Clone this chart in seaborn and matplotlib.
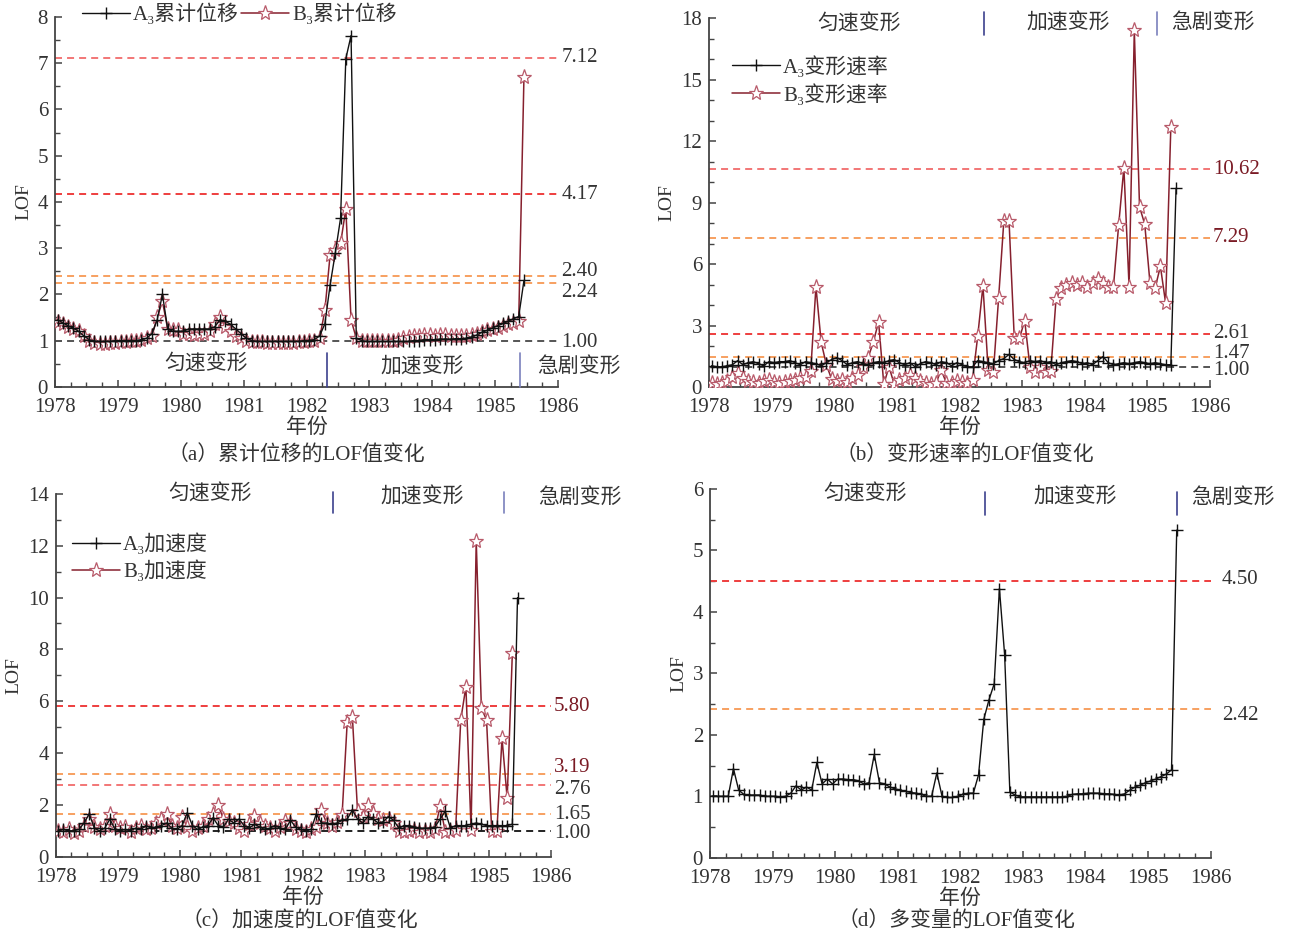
import numpy as np
import pandas as pd
import matplotlib
matplotlib.use("Agg")
import matplotlib.pyplot as plt
from matplotlib.ticker import MultipleLocator
import seaborn as sns

# ---------------- monthly LOF series (Jan 1978 onward) ----------------
disp_A3 = [1.45, 1.38, 1.32, 1.27, 1.20, 1.10, 1.02, 0.98, 0.98, 0.98,
           0.98, 1.00, 1.00, 1.00, 1.00, 1.00, 1.02, 1.05, 1.15, 1.45,
           2.00, 1.25, 1.20, 1.20, 1.20, 1.25, 1.25, 1.25, 1.25, 1.25,
           1.30, 1.45, 1.42, 1.35, 1.25, 1.15, 1.05, 1.00, 0.98, 0.98,
           0.98, 0.98, 0.98, 0.98, 0.98, 0.98, 0.98, 1.00, 1.00, 1.02,
           1.10, 1.36, 2.20, 2.90, 3.65, 7.10, 7.60, 1.05, 1.00, 0.98,
           0.98, 0.98, 0.98, 0.98, 0.98, 0.98, 0.98, 0.98, 1.00, 1.00,
           1.02, 1.02, 1.02, 1.03, 1.03, 1.03, 1.04, 1.04, 1.05, 1.08,
           1.12, 1.18, 1.22, 1.27, 1.32, 1.37, 1.42, 1.47, 1.52, 2.30]
disp_B3 = [1.40, 1.35, 1.30, 1.25, 1.20, 1.10, 1.00, 0.95, 0.93, 0.93,
           0.95, 0.95, 0.97, 0.97, 0.98, 1.00, 1.02, 1.05, 1.10, 1.50,
           1.85, 1.25, 1.22, 1.22, 1.15, 1.15, 1.12, 1.15, 1.15, 1.20,
           1.35, 1.50, 1.30, 1.20, 1.10, 1.05, 1.00, 0.97, 0.96, 0.96,
           0.95, 0.95, 0.95, 0.95, 0.95, 0.95, 0.96, 0.97, 0.98, 1.00,
           1.05, 1.65, 2.85, 2.95, 3.10, 3.85, 1.45, 1.05, 1.00, 1.00,
           1.00, 1.00, 1.00, 1.00, 1.00, 1.02, 1.05, 1.08, 1.10, 1.10,
           1.12, 1.12, 1.10, 1.12, 1.12, 1.10, 1.10, 1.10, 1.10, 1.12,
           1.15, 1.18, 1.22, 1.25, 1.28, 1.32, 1.35, 1.38, 1.43, 6.70]

rate_A3 = [1.05, 1.00, 1.00, 1.05, 1.10, 1.30, 1.10, 1.20, 1.25, 1.15,
           1.05, 1.25, 1.20, 1.25, 1.25, 1.30, 1.20, 1.10, 1.25, 1.20,
           1.15, 1.05, 1.20, 1.35, 1.45, 1.30, 1.10, 1.20, 1.25, 1.15,
           1.10, 1.20, 1.25, 1.20, 1.30, 1.35, 1.20, 1.10, 1.20, 1.00,
           1.15, 1.25, 1.20, 1.10, 1.25, 1.20, 1.05, 1.20, 1.10, 1.00,
           1.00, 1.30, 1.25, 1.20, 1.15, 1.30, 1.40, 1.60, 1.35, 1.25,
           1.20, 1.30, 1.25, 1.30, 1.20, 1.25, 1.10, 1.20, 1.25, 1.30,
           1.25, 1.15, 1.20, 1.10, 1.30, 1.50, 1.20, 1.10, 1.15, 1.20,
           1.15, 1.20, 1.25, 1.20, 1.15, 1.20, 1.15, 1.10, 1.10, 9.70]
rate_B3 = [0.20, 0.15, 0.20, 0.30, 0.50, 0.70, 0.45, 0.30, 0.25, 0.20,
           0.30, 0.35, 0.25, 0.20, 0.25, 0.30, 0.35, 0.45, 0.50, 0.80,
           4.90, 2.20, 1.10, 0.40, 0.30, 0.35, 0.25, 0.45, 0.60, 1.00,
           1.45, 2.20, 3.20, 0.15, 1.00, 0.15, 0.35, 0.45, 0.60, 0.45,
           0.30, 0.20, 0.15, 0.20, 0.85, 0.20, 0.20, 0.30, 0.25, 0.20,
           0.35, 2.50, 4.95, 0.85, 0.75, 4.35, 8.10, 8.10, 2.40, 2.40,
           3.25, 1.00, 0.75, 1.00, 0.75, 0.80, 4.30, 4.85, 5.00, 5.10,
           5.00, 5.10, 4.90, 5.10, 5.30, 5.10, 4.90, 4.90, 7.90, 10.70,
           4.90, 17.40, 8.80, 7.95, 5.10, 4.85, 5.90, 4.10, 12.70]

acc_A3 = [1.00, 1.05, 1.00, 1.00, 1.05, 1.30, 1.65, 1.10, 1.00, 1.10,
          1.45, 1.05, 1.00, 1.05, 1.00, 1.10, 1.05, 1.20, 1.10, 1.15,
          1.20, 1.30, 1.10, 1.05, 1.20, 1.70, 1.20, 1.05, 1.15, 1.20,
          1.50, 1.20, 1.15, 1.45, 1.30, 1.45, 1.20, 1.10, 1.25, 1.15,
          1.05, 1.10, 1.20, 1.10, 1.05, 1.40, 1.15, 1.05, 1.00, 1.05,
          1.65, 1.30, 1.30, 1.25, 1.30, 1.40, 1.45, 1.80, 1.45, 1.30,
          1.55, 1.45, 1.30, 1.35, 1.55, 1.40, 1.10, 1.20, 1.20, 1.15,
          1.10, 1.10, 1.10, 1.15, 1.45, 1.75, 1.10, 1.20, 1.20, 1.20,
          1.25, 1.30, 1.25, 1.20, 1.20, 1.20, 1.20, 1.20, 1.25, 10.00]
acc_B3 = [1.00, 0.95, 1.05, 0.90, 1.00, 1.20, 1.45, 1.15, 1.05, 1.20,
          1.65, 1.20, 1.10, 1.15, 0.95, 1.10, 1.20, 1.05, 1.10, 1.30,
          1.45, 1.65, 1.20, 1.10, 1.55, 1.15, 1.00, 1.10, 1.20, 1.45,
          1.64, 2.00, 1.45, 1.39, 1.30, 1.10, 1.00, 1.25, 1.58, 1.30,
          1.20, 1.10, 1.00, 1.15, 1.39, 1.30, 1.05, 1.00, 0.95, 1.05,
          1.15, 1.80, 1.30, 1.20, 1.35, 1.60, 5.20, 5.40, 1.75, 1.55,
          2.00, 1.70, 1.45, 1.40, 1.45, 1.30, 1.00, 0.97, 1.00, 1.02,
          0.97, 1.00, 0.97, 1.05, 1.95, 0.97, 1.00, 1.02, 5.28, 6.56,
          1.03, 12.20, 5.73, 5.28, 1.00, 1.00, 4.57, 2.25, 7.85]

multi_LOF = [1.00, 1.00, 1.00, 1.00, 1.45, 1.10, 1.03, 1.02, 1.02, 1.02,
             1.00, 1.00, 1.00, 0.99, 1.00, 1.05, 1.17, 1.10, 1.15, 1.10,
             1.55, 1.20, 1.28, 1.20, 1.28, 1.28, 1.27, 1.27, 1.25, 1.20,
             1.22, 1.68, 1.22, 1.20, 1.15, 1.12, 1.10, 1.08, 1.06, 1.05,
             1.03, 1.00, 1.00, 1.38, 1.00, 0.98, 0.98, 1.00, 1.03, 1.05,
             1.05, 1.35, 2.25, 2.57, 2.83, 4.38, 3.30, 1.07, 1.02, 0.99,
             0.99, 0.99, 0.99, 0.99, 0.99, 0.99, 0.99, 0.99, 1.00, 1.03,
             1.04, 1.04, 1.05, 1.05, 1.05, 1.04, 1.04, 1.03, 1.02, 1.04,
             1.10, 1.15, 1.18, 1.22, 1.25, 1.28, 1.32, 1.36, 1.43, 5.33]

# threshold levels
thr_disp = [7.12, 4.17, 2.40, 2.24, 1.00]
thr_rate = [10.62, 7.29, 2.61, 1.47, 1.00]
thr_acc = [5.80, 3.19, 2.76, 1.65, 1.00]
thr_multi = [4.50, 2.42]

# phase boundaries (decimal year) for each panel
bounds_disp = [1982.33, 1985.39]
bounds_rate = [1982.39, 1985.16]
bounds_acc = [1982.48, 1985.24]
bounds_multi = [1982.40, 1985.46]

phase_names = ["匀速变形", "加速变形", "急剧变形"]
years = list(range(1978, 1987))
legend_disp = ["A₃累计位移", "B₃累计位移"]
legend_rate = ["A₃变形速率", "B₃变形速率"]
legend_acc = ["A₃加速度", "B₃加速度"]
captions = ["（a）累计位移的LOF值变化", "（b）变形速率的LOF值变化",
            "（c）加速度的LOF值变化", "（d）多变量的LOF值变化"]

# ---------------- styling ----------------
sns.set_theme(style="ticks")
plt.rcParams["font.family"] = ["Liberation Serif", "Noto Sans CJK SC",
                               "DejaVu Serif"]
plt.rcParams["axes.unicode_minus"] = False

TXT = "#333333"
AX = "#444444"
RED = "#ee3e3e"
PINK = "#f27676"
ORANGE = "#f7a060"
GRAY = "#555555"
LINE_B = "#86202e"
STAR_EDGE = "#b85a6a"
DARKRED = "#7a1a24"
SEP1 = "#3c418e"
SEP2 = "#7a80bc"
FS = 14

fig = plt.figure(figsize=(12.89, 9.38), dpi=100)
ax_a = fig.add_axes([0.0427, 0.5877, 0.3902, 0.3941])
ax_b = fig.add_axes([0.5500, 0.5871, 0.3887, 0.3937])
ax_c = fig.add_axes([0.0432, 0.0867, 0.3843, 0.3867])
ax_d = fig.add_axes([0.5508, 0.0856, 0.3884, 0.3931])


def months(n):
    return 1978 + (np.arange(n) + 0.5) / 12


def draw_A(ax, vals, label=None):
    df = pd.DataFrame({"year": months(len(vals)), "LOF": vals})
    sns.lineplot(data=df, x="year", y="LOF", ax=ax, color="#111111",
                 linewidth=1.0, marker="+", markersize=9,
                 markeredgecolor="#111111", markeredgewidth=1.0,
                 label=label, zorder=4)


def draw_B(ax, vals, label=None):
    df = pd.DataFrame({"year": months(len(vals)), "LOF": vals})
    sns.lineplot(data=df, x="year", y="LOF", ax=ax, color=LINE_B,
                 linewidth=1.1, marker="*", markersize=11,
                 markerfacecolor="white", markeredgecolor=STAR_EDGE,
                 markeredgewidth=0.9, label=label, zorder=3)


def frame(ax, ymax, ymajor, yminor):
    ax.set_xlim(1978, 1986)
    ax.set_ylim(0, ymax)
    ax.set_xticks(years)
    ax.set_xticklabels([str(y) for y in years])
    ax.xaxis.set_minor_locator(MultipleLocator(0.25))
    ax.yaxis.set_major_locator(MultipleLocator(ymajor))
    ax.yaxis.set_minor_locator(MultipleLocator(yminor))
    for s in ["top", "right"]:
        ax.spines[s].set_visible(False)
    for s in ["left", "bottom"]:
        ax.spines[s].set_color(AX)
        ax.spines[s].set_linewidth(1.3)
    ax.tick_params(which="both", direction="in", color=AX, labelcolor=TXT,
                   labelsize=FS + 1)
    ax.tick_params(which="major", length=5, width=1.1)
    ax.tick_params(which="minor", length=3.5, width=1.0)
    ax.tick_params(axis="x", pad=8)
    ax.tick_params(axis="y", pad=5)
    ax.set_ylabel("LOF", fontsize=FS, color=TXT, labelpad=4)
    ax.set_xlabel("年份", fontsize=FS + 1, color=TXT, labelpad=1)


def thresholds(ax, levels, colors, label_colors, offsets, xlab=1986.05):
    for v, c, lc, off in zip(levels, colors, label_colors, offsets):
        ax.axhline(v, color=c, linestyle=(0, (3.6, 2.6)), linewidth=1.4,
                   zorder=1)
        ax.text(xlab, v + off, f"{v:.2f}", ha="left", va="center",
                fontsize=FS + 1, color=lc, clip_on=False)


def phases(ax, bounds, xs, ys, sep_y, sep_colors):
    trans = ax.get_xaxis_transform()
    for b, c in zip(bounds, sep_colors):
        ax.plot([b, b], sep_y, color=c, linewidth=1.2, transform=trans,
                clip_on=False, zorder=5)
    for name, x, y in zip(phase_names, xs, ys):
        ax.text(x, y, name, ha="center", va="center", fontsize=FS + 1,
                color=TXT, transform=trans, clip_on=False)


LEG = dict(frameon=False, fontsize=FS + 1, handlelength=2.3,
           handletextpad=0.15, borderpad=0, borderaxespad=0, labelcolor=TXT)

# (a) cumulative displacement
draw_B(ax_a, disp_B3, legend_disp[1])
draw_A(ax_a, disp_A3, legend_disp[0])
frame(ax_a, 8, 1, 0.5)
thresholds(ax_a, thr_disp, [PINK, RED, ORANGE, ORANGE, GRAY],
           [TXT] * 5, [0, 0, 0.09, -0.19, -0.05])
phases(ax_a, bounds_disp, [1980.40, 1983.84, 1986.34], [0.059, 0.051, 0.053],
       [0, 0.091], [SEP1, SEP2])
handles, _ = ax_a.get_legend_handles_labels()
ax_a.legend([handles[1], handles[0]], legend_disp, loc="upper left",
            bbox_to_anchor=(0.054, 1.036), ncol=2, columnspacing=0.1, **LEG)

# (b) deformation rate
draw_B(ax_b, rate_B3, legend_rate[1])
draw_A(ax_b, rate_A3, legend_rate[0])
frame(ax_b, 18, 3, 1)
thresholds(ax_b, thr_rate, [PINK, ORANGE, RED, ORANGE, GRAY],
           [DARKRED, DARKRED, TXT, TXT, TXT], [0, 0, 0, 0.2, -0.2])
phases(ax_b, bounds_rate, [1980.40, 1983.73, 1986.04], [0.981, 0.986, 0.988],
       [0.954, 1.016], [SEP1, SEP2])
handles, _ = ax_b.get_legend_handles_labels()
ax_b.legend([handles[1], handles[0]], legend_rate, loc="upper left",
            bbox_to_anchor=(0.046, 0.897), labelspacing=0.3, **LEG)

# (c) acceleration
draw_B(ax_c, acc_B3, legend_acc[1])
draw_A(ax_c, acc_A3, legend_acc[0])
frame(ax_c, 14, 2, 1)
thresholds(ax_c, thr_acc, [RED, ORANGE, PINK, ORANGE, "#222222"],
           [DARKRED, DARKRED, TXT, TXT, TXT], [0, 0.25, -0.18, -0.04, -0.1])
phases(ax_c, bounds_acc, [1980.49, 1983.92, 1986.47], [0.997, 0.99, 0.99],
       [0.948, 1.006], [SEP1, SEP2])
handles, _ = ax_c.get_legend_handles_labels()
ax_c.legend([handles[1], handles[0]], legend_acc, loc="upper left",
            bbox_to_anchor=(0.033, 0.89), labelspacing=0.25, **LEG)

# (d) multivariate
draw_A(ax_d, multi_LOF)
frame(ax_d, 6, 1, 0.5)
thresholds(ax_d, thr_multi, [RED, ORANGE], [TXT, TXT], [0.03, -0.1],
           xlab=1986.18)
phases(ax_d, bounds_multi, [1980.48, 1983.83, 1986.35], [0.984, 0.976, 0.976],
       [0.929, 0.992], [SEP1, SEP1])

# captions
for x, y, cap in zip([0.2296, 0.7486, 0.2327, 0.7420],
                     [0.5139, 0.5139, 0.0171, 0.0171], captions):
    fig.text(x, y, cap, ha="center", va="center", fontsize=FS + 1, color=TXT)

fig.savefig("out.png", dpi=100, facecolor="white")
